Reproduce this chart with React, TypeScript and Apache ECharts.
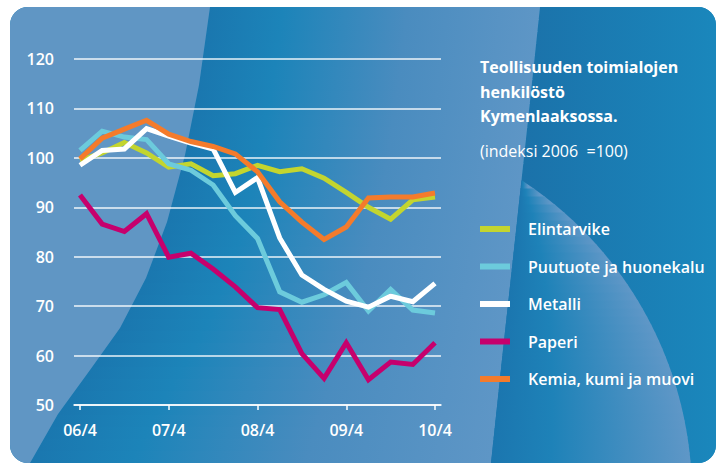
import React, { useEffect, useRef } from 'react';
import * as echarts from 'echarts';

// ---- data ----
const tickPositions = [0, 4, 8, 12, 16];
const tickLabels = ['06/4', '07/4', '08/4', '09/4', '10/4'];
const seriesNames = ['Elintarvike', 'Puutuote ja huonekalu', 'Metalli', 'Paperi', 'Kemia, kumi ja muovi'];
const elintarvike = [99.5, 101.0, 103.1, 101.0, 98.1, 98.8, 96.4, 96.8, 98.5, 97.2, 97.8, 95.9, 93.0, 90.0, 87.6, 91.5, 92.1];
const puutuote = [101.5, 105.4, 104.2, 103.7, 98.8, 97.5, 94.5, 88.3, 83.7, 72.9, 70.8, 72.3, 74.8, 69.0, 73.4, 69.2, 68.6];
const metalli = [98.5, 101.5, 101.8, 105.9, 104.4, 103.0, 101.8, 93.0, 96.0, 83.8, 76.3, 73.4, 71.0, 69.8, 72.0, 70.9, 74.6];
const paperi = [92.5, 86.6, 85.1, 88.7, 79.9, 80.7, 77.5, 73.9, 69.7, 69.3, 60.4, 55.4, 62.6, 55.1, 58.7, 58.2, 62.6];
const kemia = [99.8, 104.0, 105.8, 107.6, 104.8, 103.3, 102.3, 100.8, 97.2, 91.1, 87.0, 83.5, 86.0, 91.9, 92.1, 92.1, 92.9];
const seriesValues = [elintarvike, puutuote, metalli, paperi, kemia];
const seriesColors = ['#c3d52f', '#6ccbdc', '#ffffff', '#c6006d', '#f47b2b'];
const yTicks = { min: 50, max: 120, interval: 10 };
const titleLines = ['Teollisuuden toimialojen', 'henkilöstö', 'Kymenlaaksossa.'];
const subtitle = '(indeksi 2006  =100)';

const FONT = "'Open Sans', 'Noto Sans', sans-serif";

// ---- background geometry ----
const X0 = 10, Y0 = 7, X1 = 716, Y1 = 463, R = 18;
const L1: number[][] = [[210, 7], [199, 85], [185, 155], [167, 222], [146, 278], [120, 328], [90, 370], [58, 414], [30, 463]];
const L2: number[][] = [[540, 7], [528, 120], [515, 240], [503, 350], [491, 463]];
const CIRCLE = { cx: 316, cy: 495, r: 376 };

function xAt(line: number[][], y: number) {
  for (let i = 0; i < line.length - 1; i++) {
    const [xa, ya] = line[i];
    const [xb, yb] = line[i + 1];
    if (y >= ya && y <= yb) return xa + ((xb - xa) * (y - ya)) / (yb - ya);
  }
  return y < line[0][1] ? line[0][0] : line[line.length - 1][0];
}
function arcPts(cx: number, cy: number, r: number, a0: number, a1: number, n = 8) {
  const pts: number[][] = [];
  for (let i = 0; i <= n; i++) {
    const a = ((a0 + ((a1 - a0) * i) / n) * Math.PI) / 180;
    pts.push([cx + r * Math.cos(a), cy + r * Math.sin(a)]);
  }
  return pts;
}
function circleX(y: number) {
  const d = CIRCLE.r * CIRCLE.r - (y - CIRCLE.cy) * (y - CIRCLE.cy);
  return d > 0 ? CIRCLE.cx + Math.sqrt(d) : -Infinity;
}
function hGrad(x1: number, x2: number, y: number, stops: [number, string][]) {
  return {
    type: 'linear', x: x1, y, x2, y2: y, global: true,
    colorStops: stops.map(([offset, color]) => ({ offset, color })),
  };
}

function buildBackground() {
  const els: any[] = [];
  const base = { z: -10, silent: true };
  els.push({ type: 'rect', ...base, shape: { x: X0, y: Y0, width: X1 - X0, height: Y1 - Y0, r: R }, style: { fill: '#1b80b6' } });

  // right dark strip
  const right: number[][] = [
    ...L2,
    [X1 - R, Y1],
    ...arcPts(X1 - R, Y1 - R, R, 90, 0),
    [X1, Y0 + R],
    ...arcPts(X1 - R, Y0 + R, R, 0, -90),
  ];
  els.push({ type: 'polygon', ...base, shape: { points: right }, style: { fill: hGrad(515, X1, 200, [[0, '#1b71a9'], [1, '#1a87bc']]) } });

  // middle strip, banded gradient from L1 (dark) to L2 (light)
  const step = 12;
  for (let ya = Y0; ya < Y1; ya += step) {
    const yb = Math.min(Y1, ya + step);
    const yb2 = Math.min(Y1, yb + 1);
    const pts = [[xAt(L1, ya), ya], [xAt(L2, ya), ya], [xAt(L2, yb2), yb2], [xAt(L1, yb2), yb2]];
    const ym = (ya + yb) / 2;
    els.push({
      type: 'polygon', ...base, shape: { points: pts },
      style: { fill: hGrad(xAt(L1, ym), xAt(L2, ym), ym, [[0, '#1a77af'], [0.22, '#1c84b9'], [0.6, '#4a8cbf'], [1, '#5e96c6']]) },
    });
  }

  // light crescent inside the big circle, right of L2
  let yTop = Y0;
  for (let y = Y0; y <= Y1; y += 0.5) {
    if (circleX(y) >= xAt(L2, y)) { yTop = y; break; }
  }
  const cstep = 8;
  for (let ya = yTop; ya < Y1; ya += cstep) {
    const yb = Math.min(Y1, ya + cstep);
    const yb2 = Math.min(Y1, yb + 1);
    const pts = [[xAt(L2, ya), ya], [Math.max(circleX(ya), xAt(L2, ya)), ya], [circleX(yb2), yb2], [xAt(L2, yb2), yb2]];
    const ym = (ya + yb) / 2;
    els.push({
      type: 'polygon', ...base, shape: { points: pts },
      style: { fill: hGrad(xAt(L2, ym), Math.max(circleX(ym), xAt(L2, ym) + 1), ym, [[0, '#1b76af'], [0.3, '#1e82b8'], [1, '#5f97c7']]) },
    });
  }

  // left light region
  const left: number[][] = [
    [210, 7],
    [X0 + R, Y0],
    ...arcPts(X0 + R, Y0 + R, R, -90, -180),
    [X0, Y1 - R],
    ...arcPts(X0 + R, Y1 - R, R, 180, 90),
    ...L1.slice().reverse(),
  ];
  els.push({ type: 'polygon', ...base, shape: { points: left }, style: { fill: '#6096c4' } });
  return els;
}

export default function App() {
  const ref = useRef<HTMLDivElement>(null);
  useEffect(() => {
    if (!ref.current) return;
    const chart = echarts.init(ref.current, undefined, { renderer: 'svg' });
    const option: any = {
      animation: false,
      backgroundColor: '#ffffff',
      graphic: { elements: buildBackground() },
      title: {
        text: titleLines.join('\n'),
        subtext: subtitle,
        left: 480,
        top: 55,
        padding: 0,
        itemGap: 12,
        textStyle: { color: '#ffffff', fontSize: 16, fontWeight: 'bold', fontFamily: FONT, lineHeight: 24.5 },
        subtextStyle: { color: '#ffffff', fontSize: 16, fontWeight: 'normal', fontFamily: FONT, lineHeight: 20 },
      },
      legend: {
        data: seriesNames,
        orient: 'vertical',
        left: 480,
        top: 219,
        padding: 0,
        itemWidth: 30,
        itemHeight: 6,
        itemGap: 17.5,
        icon: 'rect',
        selectedMode: false,
        textStyle: { color: '#ffffff', fontSize: 16, fontWeight: 600, fontFamily: FONT, lineHeight: 20, padding: [0, 0, 0, 13] },
      },
      grid: { left: 74, right: 280, top: 59, bottom: 58, containLabel: false },
      xAxis: {
        type: 'value',
        min: -0.27,
        max: 16.27,
        axisLine: { show: true, lineStyle: { color: '#ffffff', width: 1.5 } },
        axisTick: { show: true, customValues: tickPositions, length: 5, lineStyle: { color: '#ffffff', width: 1.5 } },
        axisLabel: {
          customValues: tickPositions,
          formatter: (v: number) => tickLabels[tickPositions.indexOf(Math.round(v))] ?? '',
          color: '#ffffff', fontSize: 16, fontWeight: 600, fontFamily: FONT, margin: 17,
        },
        splitLine: { show: false },
      },
      yAxis: {
        type: 'value',
        min: yTicks.min,
        max: yTicks.max,
        interval: yTicks.interval,
        axisLine: { show: false },
        axisTick: { show: false },
        axisLabel: { color: '#ffffff', fontSize: 16, fontWeight: 600, fontFamily: FONT, margin: 20 },
        splitLine: { show: true, lineStyle: { color: 'rgba(255,255,255,0.9)', width: 1.5 } },
      },
      series: seriesNames.map((name, k) => ({
        name,
        type: 'line',
        data: seriesValues[k].map((v, i) => [i, v]),
        showSymbol: false,
        symbol: 'none',
        z: 2 + k,
        itemStyle: { color: seriesColors[k] },
        lineStyle: { color: seriesColors[k], width: 5, join: 'miter', cap: 'butt' },
        emphasis: { disabled: true },
      })),
    };
    chart.setOption(option);
    return () => chart.dispose();
  }, []);
  return <div ref={ref} style={{ position: 'fixed', left: 0, top: 0, width: 721, height: 463 }} />;
}
